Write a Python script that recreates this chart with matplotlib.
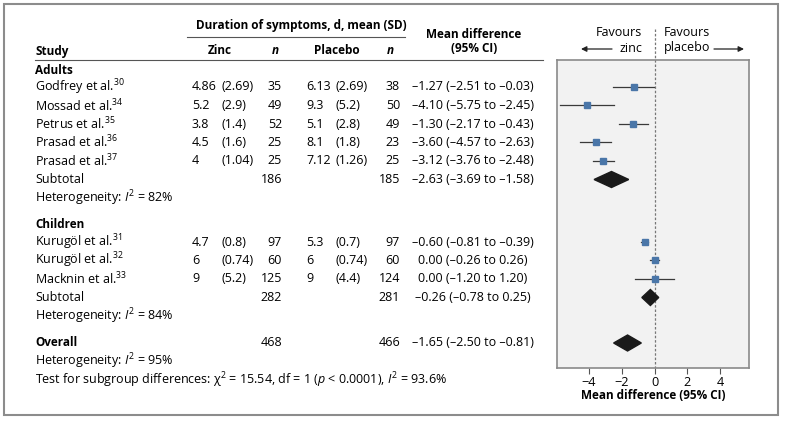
import matplotlib
matplotlib.use("Agg")
import matplotlib.pyplot as plt
from matplotlib.patches import Rectangle, Polygon

plt.rcParams['font.family'] = ['Open Sans', 'DejaVu Sans']
plt.rcParams['mathtext.fontset'] = 'custom'
plt.rcParams['mathtext.rm'] = 'Open Sans'
plt.rcParams['mathtext.it'] = 'Open Sans:italic'
plt.rcParams['mathtext.bf'] = 'Open Sans:bold'

# data
adult_names = ['Godfrey et al.', 'Mossad et al.', 'Petrus et al.', 'Prasad et al.', 'Prasad et al.']
adult_refs = [30, 34, 35, 36, 37]
adult_zinc_mean = ['4.86', '5.2', '3.8', '4.5', '4']
adult_zinc_sd = ['(2.69)', '(2.9)', '(1.4)', '(1.6)', '(1.04)']
adult_zinc_n = [35, 49, 52, 25, 25]
adult_plac_mean = ['6.13', '9.3', '5.1', '8.1', '7.12']
adult_plac_sd = ['(2.69)', '(5.2)', '(2.8)', '(1.8)', '(1.26)']
adult_plac_n = [38, 50, 49, 23, 25]
adult_md = [-1.27, -4.10, -1.30, -3.60, -3.12]
adult_lo = [-2.51, -5.75, -2.17, -4.57, -3.76]
adult_hi = [-0.03, -2.45, -0.43, -2.63, -2.48]

child_names = ['Kurugöl et al.', 'Kurugöl et al.', 'Macknin et al.']
child_refs = [31, 32, 33]
child_zinc_mean = ['4.7', '6', '9']
child_zinc_sd = ['(0.8)', '(0.74)', '(5.2)']
child_zinc_n = [97, 60, 125]
child_plac_mean = ['5.3', '6', '9']
child_plac_sd = ['(0.7)', '(0.74)', '(4.4)']
child_plac_n = [97, 60, 124]
child_md = [-0.60, 0.00, 0.00]
child_lo = [-0.81, -0.26, -1.20]
child_hi = [-0.39, 0.26, 1.20]

# subtotals: adults, children, overall
pooled_labels = ['Subtotal', 'Subtotal', 'Overall']
pooled_zinc_n = [186, 282, 468]
pooled_plac_n = [185, 281, 466]
pooled_md = [-2.63, -0.26, -1.65]
pooled_lo = [-3.69, -0.78, -2.50]
pooled_hi = [-1.58, 0.25, -0.81]
pooled_i2 = [82, 84, 95]

test_chi2 = 15.54
test_df = 1
test_p = '0.0001'
test_i2 = 93.6

xticks = [-4, -2, 0, 2, 4]


def fmt(v):
    return f'{v:.2f}'.replace('-', '\u2013')


def ci_text(m, l, h):
    return f'{fmt(m)} ({fmt(l)} to {fmt(h)})'


W, H = 786, 421
fig = plt.figure(figsize=(W / 100, H / 100), dpi=100)
bg = fig.add_axes([0, 0, 1, 1])
bg.set_xlim(0, W)
bg.set_ylim(H, 0)
bg.axis('off')

# forest panel, y in pixel rows
ax_l, ax_r, ax_t, ax_b = 557, 749, 60, 368
ax = fig.add_axes([ax_l / W, 1 - ax_b / H, (ax_r - ax_l) / W, (ax_b - ax_t) / H])
ax.set_xlim(-5.95, 5.75)
ax.set_ylim(ax_b, ax_t)
ax.set_facecolor('#f2f2f2')
for s in ax.spines.values():
    s.set_color('#8a8a8a')
    s.set_linewidth(1.2)
ax.set_yticks([])
ax.set_xticks(xticks)
ax.tick_params(axis='x', length=4, color='#555555', labelsize=9.2, pad=1.5)
ax.set_xlabel('Mean difference (95% CI)', fontsize=8.5, fontweight='bold', labelpad=0)
ax.plot([0, 0], [29, ax_b], ls=(0, (2, 1.5)), color='#777777', lw=0.9, clip_on=False, zorder=1)

# outer frame
bg.add_patch(Rectangle((4, 4), 774, 411, fill=False, edgecolor='#8c8c8c', lw=1.5))

fs = 9.0
fb = 8.5
x_name = 35
x_zm, x_zs, x_zn = 192, 221, 282
x_pm, x_ps, x_pn = 306, 335, 400
x_md = 473

# headers
bg.text(301, 26, 'Duration of symptoms, d, mean (SD)', fontsize=fb, fontweight='bold', ha='center', va='center')
bg.plot([187, 405], [37, 37], color='#555555', lw=0.8)
bg.text(474, 34, 'Mean difference', fontsize=fb, fontweight='bold', ha='center', va='center')
bg.text(474, 49, '(95% CI)', fontsize=fb, fontweight='bold', ha='center', va='center')
hy = 51
bg.text(x_name, hy, 'Study', fontsize=fb, fontweight='bold', va='center')
bg.text(220, hy, 'Zinc', fontsize=fb, fontweight='bold', ha='center', va='center')
bg.text(275, hy, 'n', fontsize=fb, fontweight='bold', style='italic', ha='center', va='center')
bg.text(337, hy, 'Placebo', fontsize=fb, fontweight='bold', ha='center', va='center')
bg.text(390, hy, 'n', fontsize=fb, fontweight='bold', style='italic', ha='center', va='center')
bg.plot([35, 543], [60, 60], color='#555555', lw=0.8)

bg.text(642, 33, 'Favours', fontsize=fs, ha='right', va='center')
bg.text(642, 48, 'zinc', fontsize=fs, ha='right', va='center')
bg.text(664, 33, 'Favours', fontsize=fs, ha='left', va='center')
bg.text(664, 48, 'placebo', fontsize=fs, ha='left', va='center')
arrow = dict(arrowstyle='-|>', color='#222222', lw=0.9, mutation_scale=8, shrinkA=0, shrinkB=0)
bg.annotate('', xy=(581, 49), xytext=(612, 49), arrowprops=arrow)
bg.annotate('', xy=(744, 49), xytext=(714, 49), arrowprops=arrow)

step = 18.5


def study_rows(y0, names, refs, zm, zs, zn, pm, ps, pn, md, lo, hi):
    for i in range(len(names)):
        y = y0 + i * step
        bg.text(x_name, y, f'{names[i]}$^{{{refs[i]}}}$', fontsize=fs, va='center')
        bg.text(x_zm, y, zm[i], fontsize=fs, va='center')
        bg.text(x_zs, y, zs[i], fontsize=fs, va='center')
        bg.text(x_zn, y, str(zn[i]), fontsize=fs, va='center', ha='right')
        bg.text(x_pm, y, pm[i], fontsize=fs, va='center')
        bg.text(x_ps, y, ps[i], fontsize=fs, va='center')
        bg.text(x_pn, y, str(pn[i]), fontsize=fs, va='center', ha='right')
        bg.text(x_md, y, ci_text(md[i], lo[i], hi[i]), fontsize=fs, va='center', ha='center')
        ax.plot([lo[i], hi[i]], [y, y], color='#3a3a3a', lw=0.9, zorder=2, clip_on=False)
        ax.plot(md[i], y, 's', color='#4a76a8', ms=4.5, zorder=3)


def pooled_row(y, k, bold=False):
    bg.text(x_name, y, pooled_labels[k], va='center',
            fontsize=fb if bold else fs, fontweight='bold' if bold else 'normal')
    bg.text(x_zn, y, str(pooled_zinc_n[k]), fontsize=fs, va='center', ha='right')
    bg.text(x_pn, y, str(pooled_plac_n[k]), fontsize=fs, va='center', ha='right')
    bg.text(x_md, y, ci_text(pooled_md[k], pooled_lo[k], pooled_hi[k]), fontsize=fs, va='center', ha='center')
    hh = 8
    ax.add_patch(Polygon([(pooled_lo[k], y), (pooled_md[k], y - hh), (pooled_hi[k], y), (pooled_md[k], y + hh)],
                         closed=True, color='#1a1a1a', zorder=3))
    bg.text(x_name, y + step, f'Heterogeneity: $\\mathit{{I}}^2$ = {pooled_i2[k]}%', fontsize=fs, va='center')


# adults
bg.text(x_name, 70, 'Adults', fontsize=fb, fontweight='bold', va='center')
study_rows(87, adult_names, adult_refs, adult_zinc_mean, adult_zinc_sd, adult_zinc_n,
           adult_plac_mean, adult_plac_sd, adult_plac_n, adult_md, adult_lo, adult_hi)
pooled_row(87 + 5 * step, 0)

# children
bg.text(x_name, 224, 'Children', fontsize=fb, fontweight='bold', va='center')
study_rows(242, child_names, child_refs, child_zinc_mean, child_zinc_sd, child_zinc_n,
           child_plac_mean, child_plac_sd, child_plac_n, child_md, child_lo, child_hi)
pooled_row(242 + 3 * step, 1)

# overall
pooled_row(343, 2, bold=True)
bg.text(x_name, 343 + 2 * step,
        f'Test for subgroup differences: \u03c7$^2$ = {test_chi2:.2f}, df = {test_df} '
        f'($\\mathit{{p}}$ < {test_p}), $\\mathit{{I}}^2$ = {test_i2}%',
        fontsize=fs, va='center')

fig.savefig('out.png', dpi=100)
